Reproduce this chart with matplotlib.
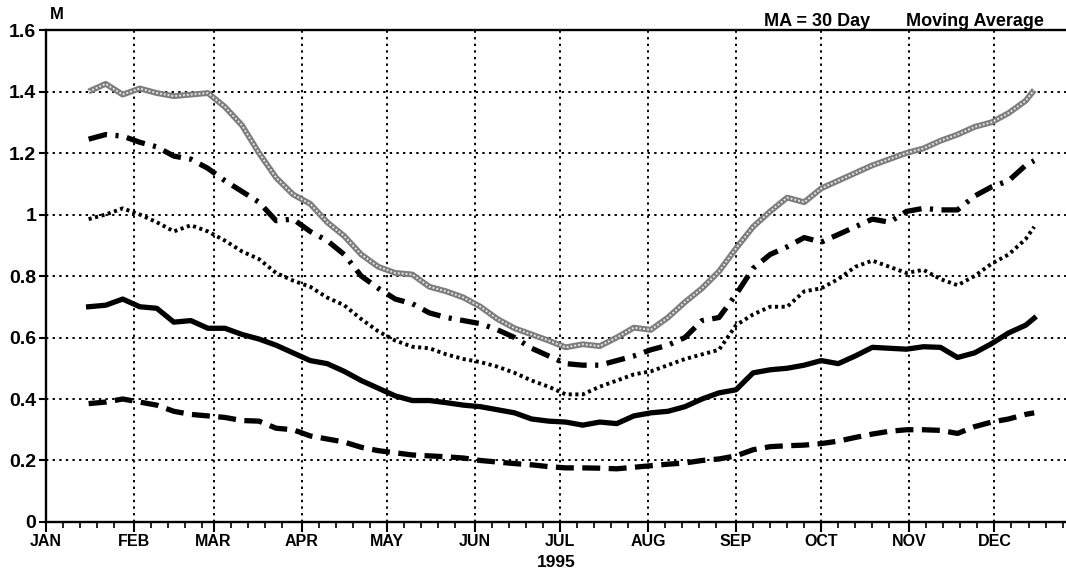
import matplotlib
matplotlib.use("Agg")
import matplotlib.pyplot as plt
import matplotlib.dates as mdates
from matplotlib.ticker import FixedLocator, FuncFormatter
import pandas as pd

plt.rcParams['font.family'] = ['Liberation Sans', 'DejaVu Sans']
plt.rcParams['font.weight'] = 'bold'

# day of year (Jan 1 = 0) of each averaged sample
days = [15, 21, 27, 33, 39, 45, 51, 57, 63, 69, 75, 81, 87, 93, 99, 105, 111, 117,
        123, 129, 135, 141, 147, 153, 159, 165, 171, 177, 183, 189, 195, 201, 207,
        213, 219, 225, 231, 237, 243, 249, 255, 261, 267, 273, 279, 285, 291, 297,
        303, 309, 315, 321, 327, 333, 339, 345, 348]

# 30 day moving averages (millions)
gray_band = [1.40, 1.425, 1.39, 1.41, 1.395, 1.385, 1.39, 1.395, 1.35, 1.29, 1.20,
             1.12, 1.065, 1.035, 0.975, 0.93, 0.87, 0.83, 0.81, 0.805, 0.765, 0.75,
             0.73, 0.70, 0.66, 0.63, 0.61, 0.59, 0.568, 0.578, 0.572, 0.60, 0.632,
             0.625, 0.665, 0.715, 0.76, 0.815, 0.89, 0.96, 1.01, 1.055, 1.04, 1.085,
             1.11, 1.135, 1.16, 1.18, 1.20, 1.215, 1.24, 1.26, 1.285, 1.30, 1.33,
             1.37, 1.405]
dash_dot = [1.245, 1.26, 1.255, 1.235, 1.22, 1.19, 1.18, 1.15, 1.11, 1.075, 1.04,
            0.98, 0.985, 0.945, 0.915, 0.87, 0.80, 0.76, 0.725, 0.71, 0.68, 0.665,
            0.655, 0.645, 0.625, 0.60, 0.565, 0.54, 0.515, 0.51, 0.51, 0.525, 0.54,
            0.56, 0.575, 0.60, 0.655, 0.665, 0.74, 0.825, 0.87, 0.895, 0.925, 0.91,
            0.935, 0.96, 0.985, 0.975, 1.01, 1.02, 1.015, 1.015, 1.06, 1.09, 1.11,
            1.16, 1.175]
dotted = [0.985, 1.0, 1.02, 1.0, 0.975, 0.945, 0.965, 0.945, 0.915, 0.88, 0.855,
          0.81, 0.785, 0.765, 0.73, 0.705, 0.66, 0.62, 0.59, 0.57, 0.565, 0.545,
          0.53, 0.52, 0.505, 0.485, 0.46, 0.44, 0.415, 0.415, 0.44, 0.46, 0.48,
          0.49, 0.51, 0.53, 0.545, 0.56, 0.64, 0.675, 0.70, 0.70, 0.75, 0.76,
          0.79, 0.83, 0.85, 0.83, 0.81, 0.82, 0.79, 0.77, 0.80, 0.84, 0.87,
          0.92, 0.96]
solid = [0.70, 0.705, 0.725, 0.70, 0.695, 0.65, 0.655, 0.63, 0.63, 0.61, 0.595,
         0.575, 0.55, 0.525, 0.515, 0.49, 0.46, 0.435, 0.41, 0.395, 0.395, 0.388,
         0.38, 0.375, 0.365, 0.355, 0.335, 0.328, 0.325, 0.315, 0.325, 0.32, 0.345,
         0.355, 0.36, 0.375, 0.40, 0.42, 0.43, 0.485, 0.495, 0.50, 0.51, 0.525,
         0.515, 0.54, 0.568, 0.565, 0.562, 0.57, 0.568, 0.535, 0.55, 0.58, 0.615,
         0.64, 0.663]
dashed = [0.385, 0.39, 0.40, 0.39, 0.38, 0.36, 0.35, 0.345, 0.34, 0.33, 0.328,
          0.305, 0.30, 0.28, 0.27, 0.26, 0.243, 0.232, 0.225, 0.218, 0.215, 0.212,
          0.208, 0.20, 0.195, 0.19, 0.186, 0.18, 0.176, 0.176, 0.175, 0.173, 0.178,
          0.183, 0.188, 0.192, 0.20, 0.205, 0.215, 0.235, 0.245, 0.248, 0.25, 0.255,
          0.263, 0.275, 0.286, 0.295, 0.30, 0.30, 0.298, 0.288, 0.31, 0.325, 0.335,
          0.35, 0.355]

month_labels = ['JAN', 'FEB', 'MAR', 'APR', 'MAY', 'JUN',
                'JUL', 'AUG', 'SEP', 'OCT', 'NOV', 'DEC']
y_ticks = [0, 0.2, 0.4, 0.6, 0.8, 1.0, 1.2, 1.4, 1.6]

start = pd.Timestamp('1995-01-01')
dates = start + pd.to_timedelta(days, unit='D')

fig = plt.figure(figsize=(10.66, 5.74), dpi=100)
ax = fig.add_axes([0.0432, 0.0906, 0.9568, 0.8571])

# grey "band" line: dark stroke with a light broken core
ax.plot(dates, gray_band, color='#7c7c7c', lw=4.2, solid_capstyle='butt', zorder=5)
ax.plot(dates, gray_band, color='#e4e4e4', lw=1.4, linestyle=(0, (1, 1)), zorder=6)
ax.plot(dates, dash_dot, color='black', lw=3.8, linestyle=(0, (3.6, 1.6, 0.6, 1.6)), zorder=5)
ax.plot(dates, dotted, color='black', lw=2.8, linestyle=(0, (0.8, 0.9)), zorder=5)
ax.plot(dates, solid, color='black', lw=3.8, zorder=5)
ax.plot(dates, dashed, color='black', lw=3.8, linestyle=(0, (3.4, 1.6)), zorder=5)

ax.set_xlim(start, start + pd.Timedelta(days=359.2))
ax.set_ylim(0, 1.6)

ax.xaxis.set_major_locator(mdates.MonthLocator())
ax.xaxis.set_major_formatter(FuncFormatter(lambda v, p: month_labels[mdates.num2date(v).month - 1]))
ax.xaxis.set_minor_locator(mdates.DayLocator(bymonthday=[7, 13, 19, 25]))
ax.yaxis.set_major_locator(FixedLocator(y_ticks))
ax.yaxis.set_major_formatter(FuncFormatter(lambda v, p: f'{v:g}'))

ax.tick_params(axis='x', which='major', direction='out', length=7, width=1.5,
               labelsize=11.5, pad=2)
ax.tick_params(axis='x', which='minor', direction='out', length=4, width=1.2)
ax.tick_params(axis='y', which='major', direction='out', length=5, width=1.5,
               labelsize=14, pad=2)

ax.grid(True, which='major', color='black', linestyle=(0, (1.2, 2.2)), lw=1.4)
ax.set_axisbelow(True)

for side in ('left', 'bottom', 'top'):
    ax.spines[side].set_linewidth(1.7)
ax.spines['right'].set_visible(False)

ax.set_xlabel('1995', fontsize=12.5, fontweight='bold', labelpad=4)
fig.text(0.053, 0.975, 'M', fontsize=12, fontweight='bold', ha='center', va='center')
fig.text(0.816, 0.963, 'MA = 30 Day', fontsize=13, fontweight='bold',
         ha='right', va='center')
fig.text(0.979, 0.963, 'Moving Average', fontsize=13, fontweight='bold',
         ha='right', va='center')

fig.savefig('out.png', dpi=100)
